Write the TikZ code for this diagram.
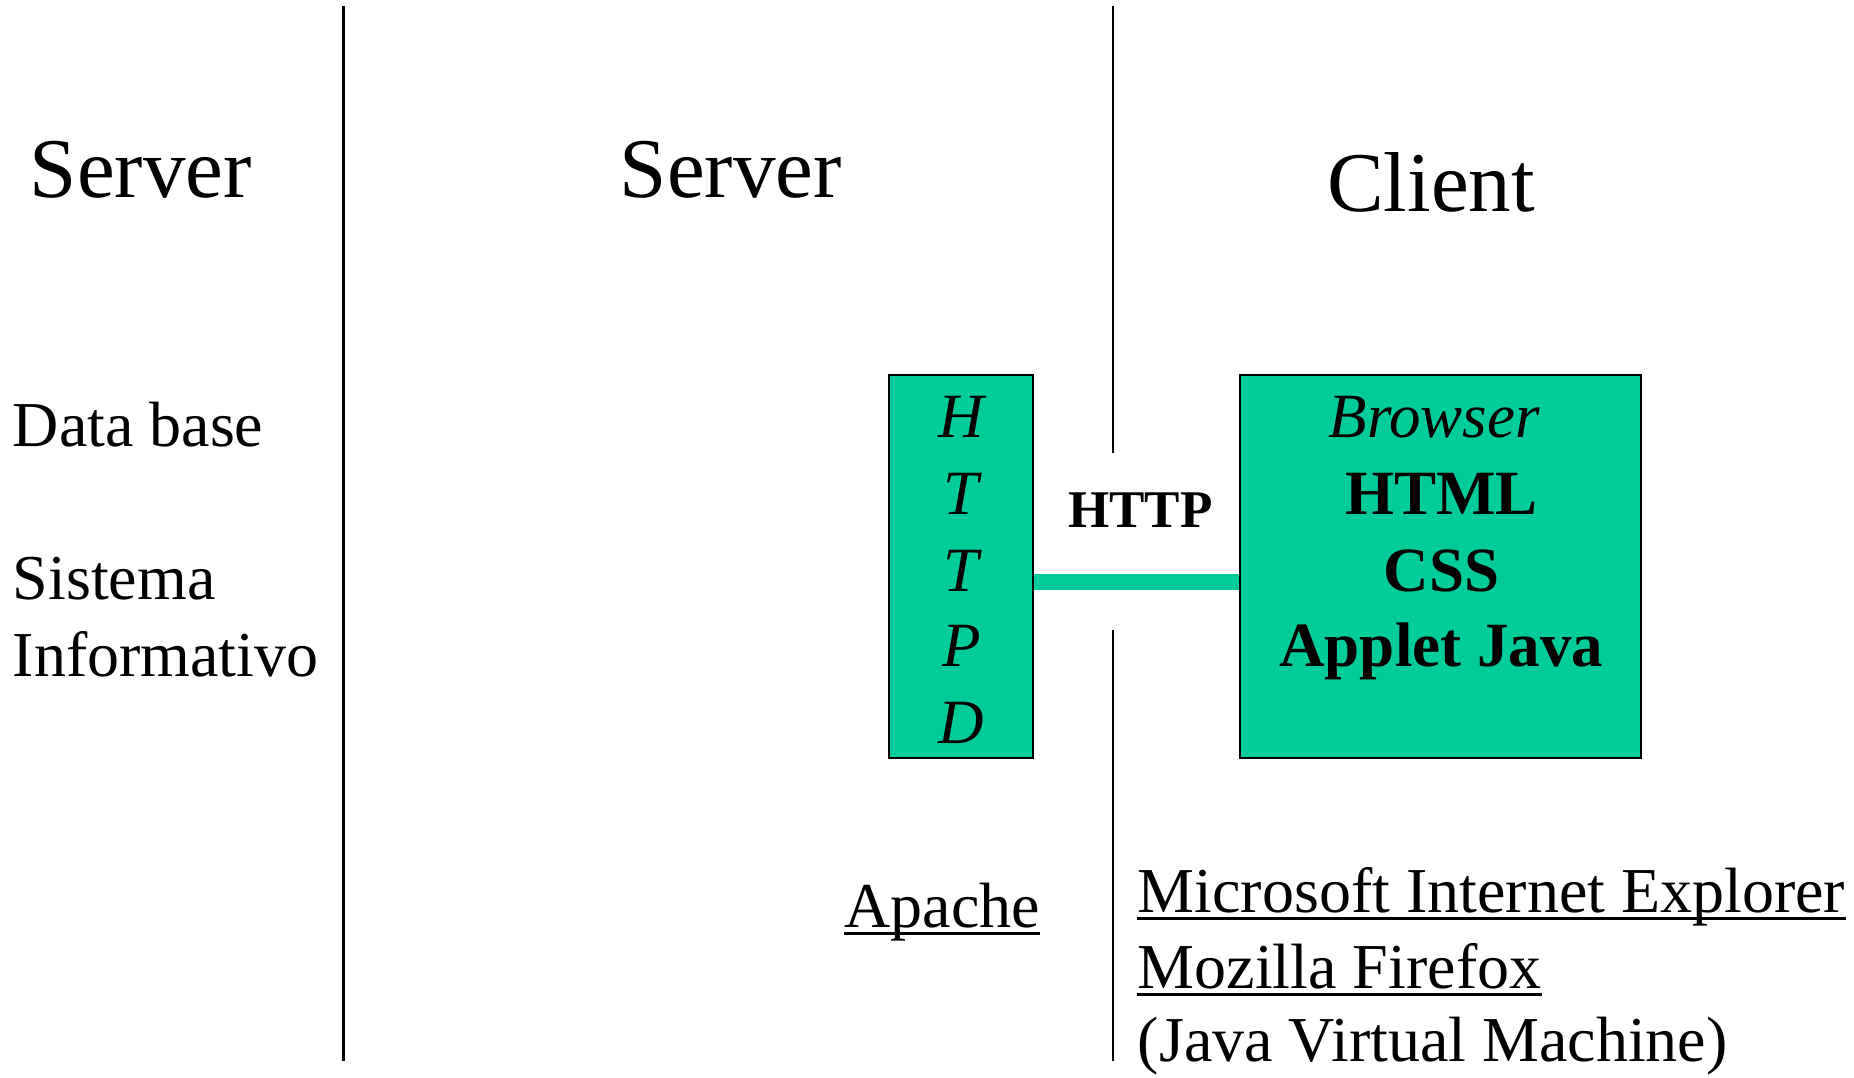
\documentclass[tikz,border=0pt]{standalone}
\usepackage{fontspec}
\setmainfont{Liberation Serif}
\usetikzlibrary{fit}
\definecolor{webgreen}{HTML}{00CC99}
\begin{document}
\begin{tikzpicture}[
  x=0.5912pt, y=-0.5912pt,
  divider/.style={line width=1.1pt},
  panel/.style={draw, line width=1pt, fill=webgreen, inner sep=0pt},
  link/.style={draw=webgreen, line width=8pt},
  heading/.style={font=\fontsize{42.5}{50}\selectfont, inner sep=0pt, anchor=base west},
  label/.style={font=\fontsize{32}{38}\selectfont, inner sep=0pt, anchor=base west},
  letter/.style={font=\fontsize{31.5}{38}\selectfont\itshape, inner sep=0pt, anchor=base},
  boxtext/.style={font=\fontsize{31.5}{38}\selectfont\bfseries, inner sep=0pt, anchor=base},
  protocol/.style={font=\fontsize{26.5}{32}\selectfont\bfseries, inner sep=0pt, anchor=base},
  uline/.style={line width=1.4pt}
]
\useasboundingbox (0,0) rectangle (1568,911);

% column dividers
\draw[divider] (290.5,5) -- (290.5,897);
\draw[divider] (941,5) -- (941,383);
\draw[divider] (941,533) -- (941,897);

% column headings
\node[heading] (srv1) at (25,167) {Server};
\node[heading] (srv2) at (524,167) {Server};
\node[heading] (cli) at (1122,179) {Client};

% back-end column
\node[label] (db) at (10.5,378) {Data base};
\node[label] (sis1) at (10.5,507) {Sistema};
\node[label] (sis2) at (10.5,572) {Informativo};

% web server box
\node[panel, fit={(752,317) (874,641)}] (httpd) {};
\node[letter] (h1) at (813,370) {H};
\node[letter] (h2) at (813,435) {T};
\node[letter] (h3) at (813,500) {T};
\node[letter] (h4) at (813,564) {P};
\node[letter] (h5) at (813,629) {D};

% browser box
\node[panel, fit={(1049,317) (1388,641)}] (browser) {};
\node[letter] (b1) at (1213,370) {Browser};
\node[boxtext] (b2) at (1219,435) {HTML};
\node[boxtext] (b3) at (1219,500) {CSS};
\node[boxtext] (b4) at (1219,564) {Applet Java};

% HTTP connection
\coordinate (linky) at (0,492);
\draw[link] (httpd.east |- linky) -- (browser.west |- linky);
\node[protocol] (http) at (964.5,446) {HTTP};

% product names
\node[label] (apache) at (714,784) {Apache};
\draw[uline] ([yshift=-3.2pt]apache.base west) -- ([yshift=-3.2pt]apache.base east);
\node[label] (msie) at (962,772) {Microsoft Internet Explorer};
\draw[uline] ([yshift=-3pt]msie.base west) -- ([yshift=-3pt]msie.base east);
\node[label] (moz) at (962,836) {Mozilla Firefox};
\draw[uline] ([yshift=-3pt]moz.base west) -- ([yshift=-3pt]moz.base east);
\node[label] (jvm) at (962,898) {(Java Virtual Machine)};
\end{tikzpicture}
\end{document}
